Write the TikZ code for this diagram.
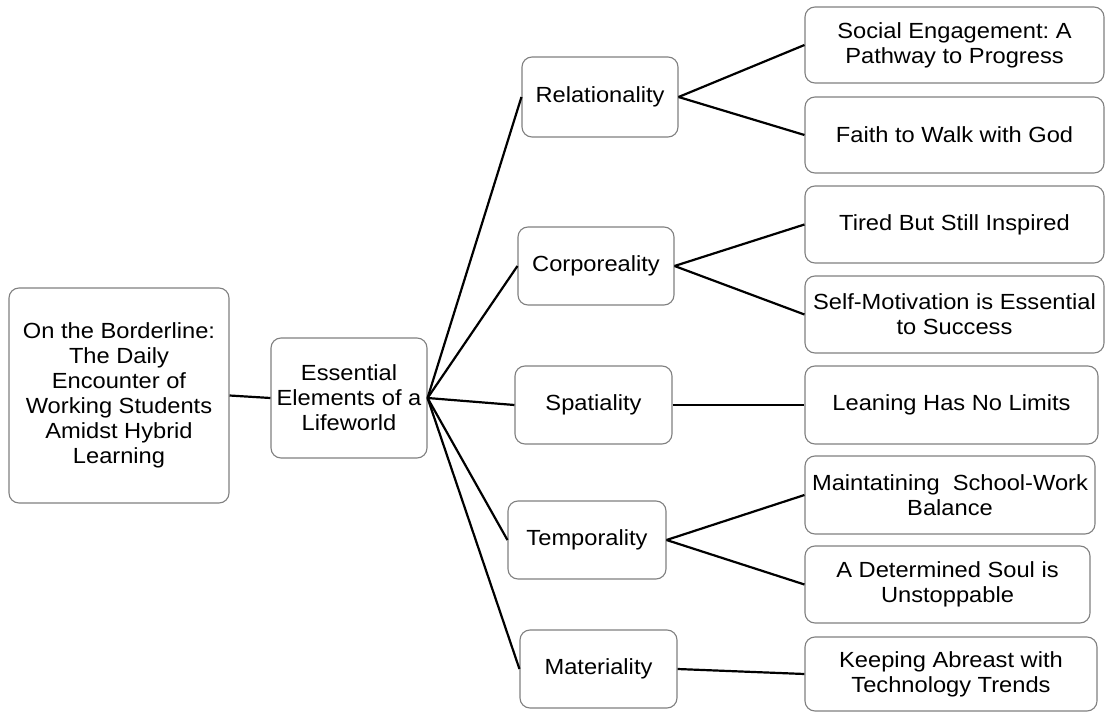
\documentclass[tikz,border=0pt]{standalone}
\usepackage{fontspec}
\setmainfont{Liberation Sans}[FakeStretch=1.08]
\frenchspacing
\begin{document}
\begin{tikzpicture}[x=1bp,y=-1bp,
  box/.style={draw=black!50,line width=1.1bp,rounded corners=10bp,fill=white,
    align=center,inner sep=2bp,font=\fontsize{22}{25}\selectfont},
  link/.style={line width=2.2bp,black}]
\useasboundingbox (0,0) rectangle (1107,712);
\node[box,minimum width=220bp,minimum height=215bp] (root) at (119,395.5) {On the Borderline:\\The Daily\\Encounter of\\Working Students\\Amidst Hybrid\\Learning};
\node[box,minimum width=156bp,minimum height=120bp] (ess) at (349,398) {Essential\\Elements of a\\Lifeworld};
\node[box,minimum width=156bp,minimum height=80bp] (rel) at (600,97) {Relationality};
\node[box,minimum width=156bp,minimum height=78bp] (cor) at (596,266) {Corporeality};
\node[box,minimum width=157bp,minimum height=78bp] (spa) at (593.5,405) {Spatiality};
\node[box,minimum width=158bp,minimum height=78bp] (tem) at (587,540) {Temporality};
\node[box,minimum width=157bp,minimum height=78bp] (mat) at (598.5,669) {Materiality};
\node[box,minimum width=299bp,minimum height=76bp] (soc) at (954.5,45) {Social Engagement: A\\Pathway to Progress};
\node[box,minimum width=299bp,minimum height=76bp] (fai) at (954.5,135) {Faith to Walk with God};
\node[box,minimum width=299bp,minimum height=77bp] (tir) at (954.5,224.5) {Tired But Still Inspired};
\node[box,minimum width=299bp,minimum height=77bp] (sel) at (954.5,314.5) {Self-Motivation is Essential\\to Success};
\node[box,minimum width=293bp,minimum height=78bp] (lea) at (951.5,405) {Leaning Has No Limits};
\node[box,minimum width=290bp,minimum height=78bp] (mai) at (950,495) {Maintatining\ \ School-Work\\Balance};
\node[box,minimum width=285bp,minimum height=77bp] (det) at (947.5,584.5) {A Determined Soul is\\Unstoppable};
\node[box,minimum width=292bp,minimum height=74bp] (kee) at (951,674) {Keeping Abreast with\\Technology Trends};
\draw[link] (root.east) -- (ess.west);
\foreach \m in {rel,cor,spa,tem,mat} \draw[link] (ess.east) -- (\m.west);
\draw[link] (rel.east) -- (soc.west);
\draw[link] (rel.east) -- (fai.west);
\draw[link] (cor.east) -- (tir.west);
\draw[link] (cor.east) -- (sel.west);
\draw[link] (spa.east) -- (lea.west);
\draw[link] (tem.east) -- (mai.west);
\draw[link] (tem.east) -- (det.west);
\draw[link] (mat.east) -- (kee.west);
\end{tikzpicture}
\end{document}
